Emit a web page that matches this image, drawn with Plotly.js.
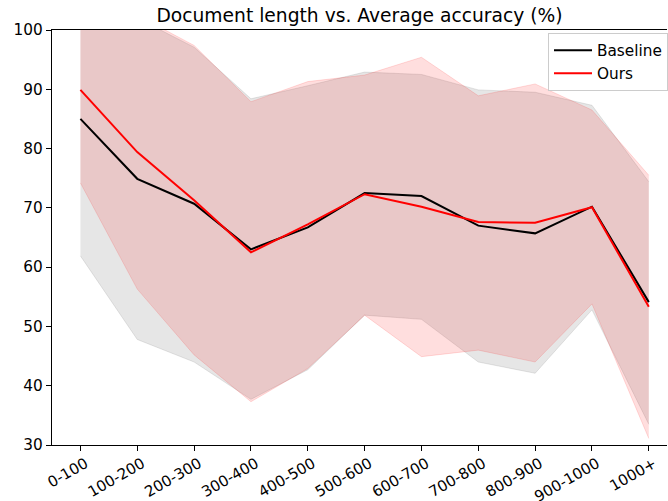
<!DOCTYPE html>
<html>
<head>
<meta charset="utf-8">
<script src="https://cdn.plot.ly/plotly-3.0.1.min.js"></script>
<style>html,body{margin:0;padding:0;background:#fff;}#chart{width:668px;height:501px;}</style>
</head>
<body>
<div id="chart"></div>
<script>
const categories = ["0-100","100-200","200-300","300-400","400-500","500-600","600-700","700-800","800-900","900-1000","1000+"];
const baselineMean  = [85.0, 74.9, 70.7, 63.0, 66.7, 72.5, 72.0, 67.0, 65.7, 70.2, 54.1];
const baselineUpper = [108.1, 102.0, 97.1, 88.4, 90.6, 92.9, 92.5, 89.9, 89.5, 87.3, 74.4];
const baselineLower = [61.9, 47.8, 44.0, 37.7, 42.7, 51.9, 51.2, 44.0, 42.1, 52.8, 33.5];
const oursMean  = [89.9, 79.4, 71.3, 62.5, 67.2, 72.3, 70.2, 67.6, 67.5, 70.1, 53.3];
const oursUpper = [105.6, 102.5, 97.4, 87.9, 91.3, 92.4, 95.4, 88.9, 90.9, 86.5, 75.5];
const oursLower = [74.2, 56.3, 45.2, 37.3, 42.9, 51.9, 44.9, 46.0, 44.0, 53.8, 31.1];

const idx = categories.map((_, i) => i);
const grayFill = 'rgba(128,128,128,0.2)';
const redFill = 'rgba(255,0,0,0.13)';

const traces = [
  {x: idx, y: baselineLower, type: 'scatter', mode: 'lines', line: {color: grayFill, width: 1}, showlegend: false, hoverinfo: 'skip'},
  {x: idx, y: baselineUpper, type: 'scatter', mode: 'lines', fill: 'tonexty', fillcolor: grayFill, line: {color: grayFill, width: 1}, showlegend: false, hoverinfo: 'skip'},
  {x: idx, y: oursLower, type: 'scatter', mode: 'lines', line: {color: redFill, width: 1}, showlegend: false, hoverinfo: 'skip'},
  {x: idx, y: oursUpper, type: 'scatter', mode: 'lines', fill: 'tonexty', fillcolor: redFill, line: {color: redFill, width: 1}, showlegend: false, hoverinfo: 'skip'},
  {x: idx, y: baselineMean, type: 'scatter', mode: 'lines', name: 'Baseline', line: {color: '#000000', width: 2}},
  {x: idx, y: oursMean, type: 'scatter', mode: 'lines', name: 'Ours', line: {color: '#ff0000', width: 2}}
];

const font = {family: 'DejaVu Sans', size: 15.3, color: '#000'};
const tickFontX = {family: 'DejaVu Sans', size: 15, color: '#000'};
const layout = {
  width: 668, height: 501,
  margin: {l: 52, r: 0, t: 30, b: 56},
  paper_bgcolor: '#fff', plot_bgcolor: '#fff',
  font: font,
  title: {text: 'Document length vs. Average accuracy (%)', font: {family: 'DejaVu Sans', size: 18.7, color: '#000'}, x: 0.5, xanchor: 'center', xref: 'paper', y: 0.97, yanchor: 'middle'},
  xaxis: {
    range: [-0.5, 10.32], tickmode: 'array', tickvals: idx, ticktext: categories,
    tickangle: -30, ticks: 'outside', ticklen: 5, tickwidth: 1, tickcolor: '#000',
    ticklabelshift: 5, ticklabelstandoff: -2,
    showgrid: false, zeroline: false, showline: true, linecolor: '#000', linewidth: 1.2, mirror: true,
    tickfont: tickFontX, fixedrange: true
  },
  yaxis: {
    range: [30, 100], tickmode: 'array', tickvals: [30,40,50,60,70,80,90,100],
    ticks: 'outside', ticklen: 5, tickwidth: 1, tickcolor: '#000',
    showgrid: false, zeroline: false, showline: true, linecolor: '#000', linewidth: 1.2,
    tickfont: font, fixedrange: true
  },
  legend: {
    x: 0.807, y: 0.993, xanchor: 'left', yanchor: 'top', traceorder: 'normal',
    bgcolor: 'rgba(255,255,255,0.8)', bordercolor: '#cccccc', borderwidth: 1,
    font: font, tracegroupgap: 0, itemwidth: 38
  },
  showlegend: true
};

Plotly.newPlot('chart', traces, layout, {displayModeBar: false, staticPlot: true});
</script>
</body>
</html>
